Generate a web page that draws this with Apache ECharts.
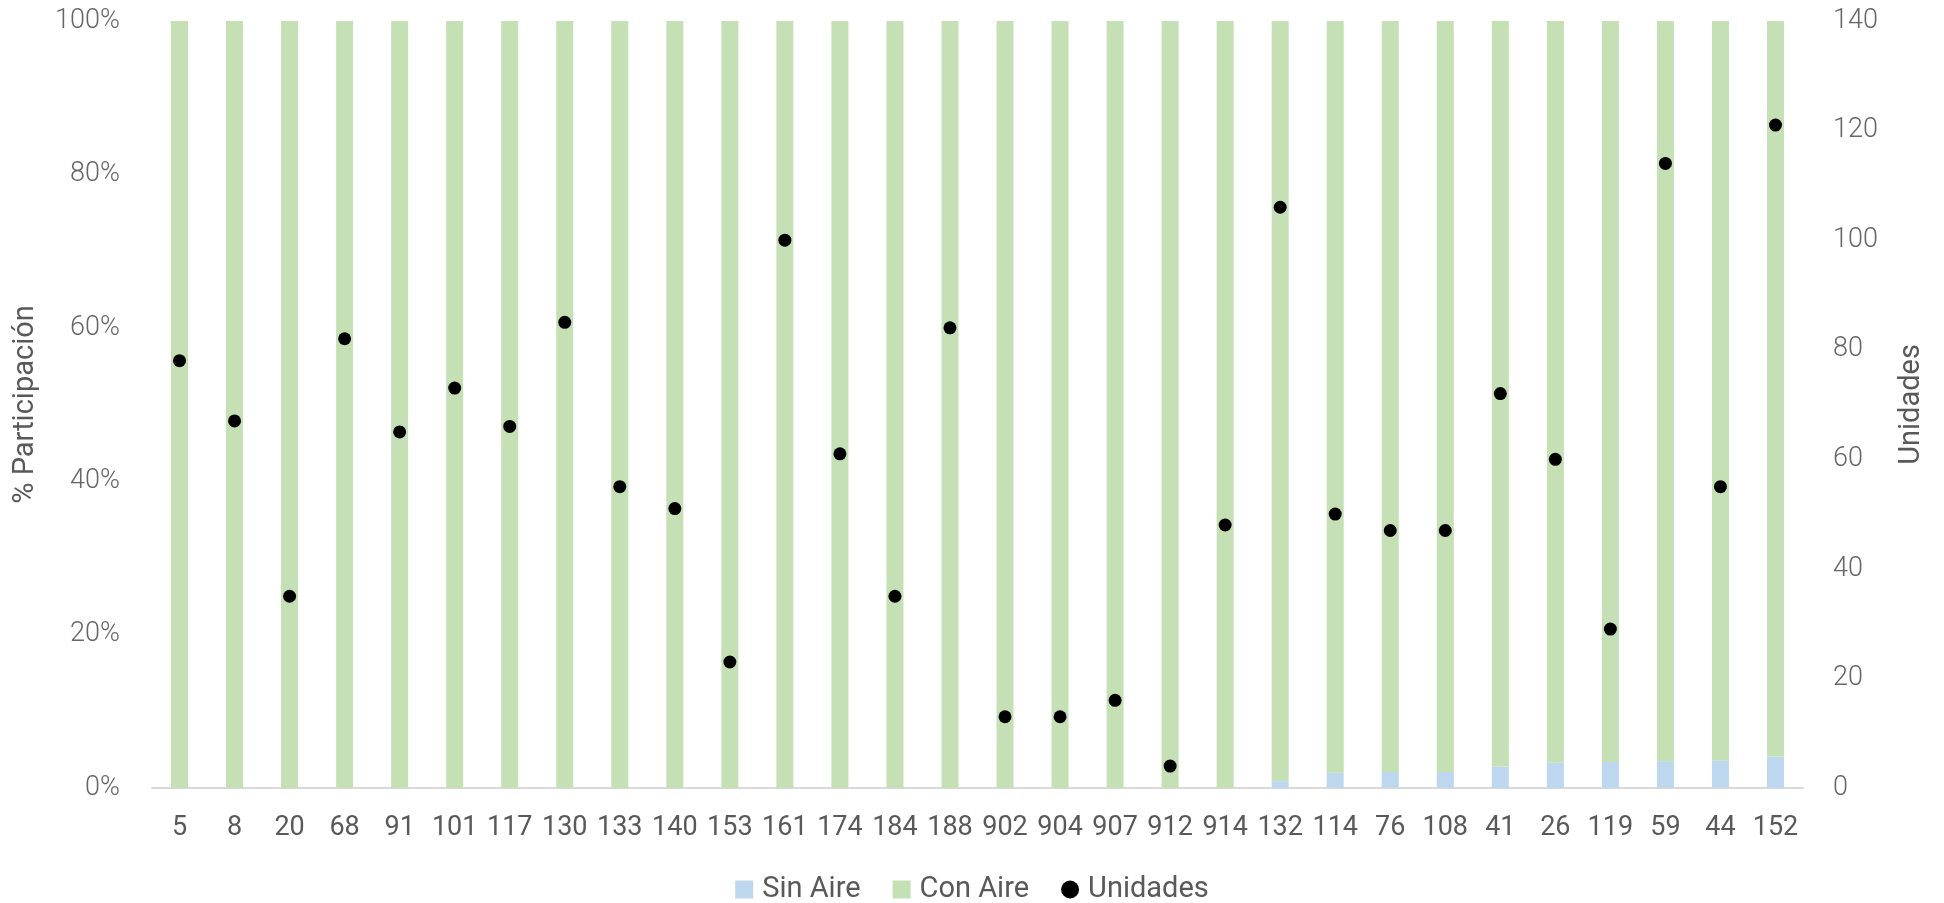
<!DOCTYPE html>
<html>
<head>
<meta charset="utf-8">
<script src="https://cdn.jsdelivr.net/npm/echarts@6/dist/echarts.min.js"></script>
<style>
html,body{margin:0;padding:0;background:#fff;}
#chart{width:1944px;height:903px;}
</style>
</head>
<body>
<div id="chart"></div>
<script>
const categories = ['5','8','20','68','91','101','117','130','133','140','153','161','174','184','188','902','904','907','912','914','132','114','76','108','41','26','119','59','44','152'];
const sinAire = [0,0,0,0,0,0,0,0,0,0,0,0,0,0,0,0,0,0,0,0,0.9,2.0,2.1,2.1,2.8,3.3,3.4,3.5,3.6,4.1];
const conAire = [100,100,100,100,100,100,100,100,100,100,100,100,100,100,100,100,100,100,100,100,99.1,98.0,97.9,97.9,97.2,96.7,96.6,96.5,96.4,95.9];
const unidades = [78,67,35,82,65,73,66,85,55,51,23,100,61,35,84,13,13,16,4,48,106,50,47,47,72,60,29,114,55,121];

const chart = echarts.init(document.getElementById('chart'));
const tickFont = {fontFamily:'Roboto', fontSize:27, fontWeight:300, color:'#666666'};
chart.setOption({
  animation:false,
  grid:{left:152, right:141, top:21, bottom:115, containLabel:false},
  legend:{
    left:'center', top:870,
    itemWidth:18, itemHeight:18, itemGap:32,
    textStyle:{fontFamily:'Roboto', fontSize:29, color:'#595959', padding:[0,0,0,4]},
    data:[{name:'Sin Aire', icon:'rect'},{name:'Con Aire', icon:'rect'},{name:'Unidades', icon:'circle'}]
  },
  xAxis:{
    type:'category', data:categories,
    axisLine:{lineStyle:{color:'#d9d9d9', width:2}},
    axisTick:{show:false},
    axisLabel:{fontFamily:'Roboto', fontSize:27, color:'#595959', margin:27, interval:0}
  },
  yAxis:[{
    type:'value', min:0, max:100, interval:20,
    name:'% Participación', nameLocation:'middle', nameGap:112,
    nameTextStyle:{fontFamily:'Roboto', fontSize:29, color:'#595959'},
    splitLine:{show:false}, axisLine:{show:false}, axisTick:{show:false},
    axisLabel:Object.assign({margin:32, formatter:v=>v+'%'}, tickFont)
  },{
    type:'value', min:0, max:140, interval:20,
    name:'Unidades', nameLocation:'middle', nameGap:94,
    nameTextStyle:{fontFamily:'Roboto', fontSize:29, color:'#595959'},
    splitLine:{show:false}, axisLine:{show:false}, axisTick:{show:false},
    axisLabel:Object.assign({margin:30}, tickFont)
  }],
  series:[
    {name:'Sin Aire', type:'bar', stack:'p', data:sinAire, barWidth:17, itemStyle:{color:'#bdd7ee'}},
    {name:'Con Aire', type:'bar', stack:'p', data:conAire, barWidth:17, itemStyle:{color:'#c5e0b4'}},
    {name:'Unidades', type:'scatter', yAxisIndex:1, data:unidades, symbol:'circle', symbolSize:13, itemStyle:{color:'#000000', opacity:1}}
  ]
});
</script>
</body>
</html>
